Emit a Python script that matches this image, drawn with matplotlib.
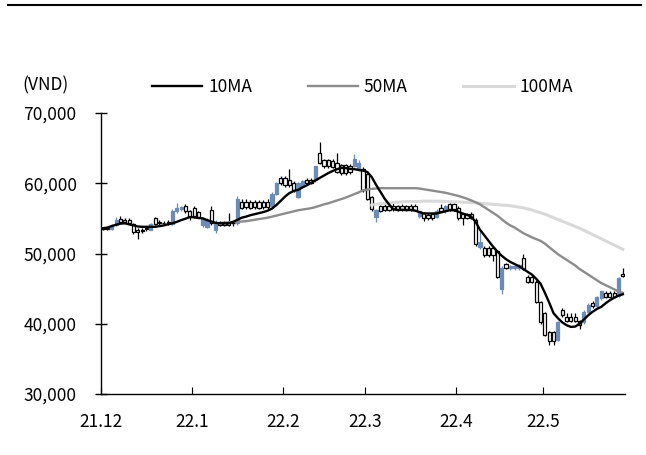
import matplotlib
matplotlib.use("Agg")
import matplotlib.pyplot as plt
import numpy as np
from matplotlib.lines import Line2D

plt.rcParams['font.family'] = ['Noto Sans CJK KR', 'DejaVu Sans']

# ---------------- data ----------------
month_labels = ["21.12", "22.1", "22.2", "22.3", "22.4", "22.5"]
month_days = [21, 21, 19, 21, 20, 19]

opens = [
    53600, 53600, 53500, 54000, 54900, 54800, 54700, 54200, 53400, 53400, 53500,
    53400, 55000, 54500, 54400, 54500, 54200, 56000, 56300, 56800, 56000,
    56500, 55900, 54000, 53800, 56200, 53400, 54400, 54400, 54400, 54400, 54300,
    57400, 57400, 57400, 57400, 57400, 57400, 57400, 56800, 58500, 60700,
    60800, 60500, 60000, 58100, 59600, 60500, 60500, 60400, 64300, 63300,
    63300, 63200, 62900, 62600, 62600, 62500, 62500, 61900, 62000,
    61300, 58000, 55200, 56700, 56800, 56700, 56800, 56700, 56800, 56700, 56800,
    56800, 55300, 55700, 55500, 55600, 55200, 56500, 56000, 57000, 57000,
    56500, 55600, 55600, 55600, 54800, 50900, 50800, 50800, 50800, 50300,
    45000, 48500, 47900, 47900, 47900, 49400, 46700, 46700, 46000, 43100,
    41500, 38800, 38800, 37700, 42000, 41000, 41000, 41000, 40400, 40200,
    41700, 43000, 42500, 43600, 44400, 44400, 44400, 44000, 47100,
]
highs = [
    53800, 53800, 54200, 55200, 55300, 55000, 55000, 54400, 53600, 53600, 53800,
    54300, 55200, 54700, 54600, 54700, 56300, 57200, 56800, 57000, 56200,
    56700, 56100, 55200, 55000, 56800, 54700, 54600, 54600, 55700, 54600, 58200,
    57700, 57700, 57600, 57600, 57600, 57600, 57700, 58700, 60200, 61000,
    61000, 62000, 60300, 60200, 60500, 60700, 60800, 62500, 65900, 63500,
    63500, 63400, 64300, 62800, 62800, 62700, 64200, 63300, 62300,
    61500, 58200, 56300, 56900, 57000, 56900, 57500, 56900, 57000, 56900, 57000,
    57000, 56100, 55900, 55700, 55800, 56300, 57000, 56900, 57200, 57200,
    56700, 55800, 55800, 55900, 55000, 53300, 51000, 51000, 51000, 50500,
    48200, 48700, 48400, 48400, 48500, 49900, 46900, 46900, 46200, 43300,
    41700, 39000, 39000, 40400, 42200, 41600, 41600, 41600, 40600, 41900,
    42900, 43300, 43900, 44700, 44600, 44600, 44600, 46700, 47900,
]
lows = [
    53300, 53300, 53400, 53900, 54300, 54300, 54200, 52800, 52000, 52900, 53200,
    53300, 54100, 54000, 54000, 54100, 54000, 55800, 56000, 55800, 54800,
    55000, 55000, 53800, 53600, 54100, 52900, 53900, 53900, 53900, 53900, 54100,
    56300, 56300, 56300, 56300, 56300, 56300, 56300, 56600, 58300, 59700,
    59500, 59500, 58800, 57900, 59400, 59800, 59900, 60200, 62700, 62200,
    62200, 62100, 61400, 61200, 61200, 61300, 62300, 61700, 58800,
    57600, 56000, 54500, 55900, 56000, 56000, 56100, 56000, 56100, 56000, 56100,
    56000, 55000, 54600, 54700, 54800, 55000, 55900, 55800, 56100, 56100,
    54800, 54000, 54900, 54900, 51100, 50700, 49500, 49500, 48900, 46500,
    44200, 47800, 47700, 47700, 47700, 47600, 45800, 45800, 42900, 40000,
    38200, 37000, 37000, 37500, 41000, 40200, 40200, 40200, 39200, 40000,
    41500, 42300, 42300, 43400, 43600, 43600, 43600, 43800, 46600,
]
closes = [
    53500, 53500, 54000, 54800, 54500, 54500, 54400, 53000, 53100, 53200, 53500,
    54200, 54200, 54300, 54300, 54300, 56100, 56500, 56600, 56000, 55200,
    55400, 55200, 55000, 54800, 54300, 54500, 54000, 54100, 54100, 54300, 57800,
    56500, 56600, 56500, 56600, 56500, 56600, 56600, 58500, 60000, 60000,
    59800, 59700, 59000, 60000, 60300, 60000, 60100, 62400, 62900, 62400,
    62500, 62300, 61600, 61500, 61500, 61600, 63500, 62900, 59000,
    57800, 56300, 56200, 56100, 56200, 56200, 56300, 56200, 56300, 56200, 56300,
    56200, 56000, 55000, 55000, 55000, 56100, 56100, 56700, 56300, 56300,
    55000, 55100, 55100, 55100, 51300, 51600, 49800, 49800, 49800, 46700,
    48000, 48000, 48200, 48200, 48300, 47800, 46000, 46000, 43100, 40200,
    38400, 37500, 37500, 40200, 41200, 40400, 40400, 40400, 39800, 41700,
    42700, 42500, 43800, 44600, 43800, 43800, 43800, 46500, 46800,
]
ma10 = [
    53600, 53700, 53900, 54100, 54250, 54300, 54150, 54000, 53850, 53800, 53800,
    53800, 53800, 53900, 54000, 54150, 54300, 54500, 54750, 54950, 55200,
    55150, 55050, 55000, 54750, 54550, 54350, 54300, 54300, 54300, 54500, 54800,
    55100, 55250, 55450, 55600, 55750, 55900, 56100, 56400, 56900, 57500,
    58100, 58600, 58900, 59050, 59400, 59700, 60050, 60400, 60750, 61100,
    61450, 61750, 62000, 62200, 62150, 62050, 62000, 61900, 61800,
    61600, 60900, 59800, 58800, 57800, 57000, 56300, 56200, 56200, 56200, 56200,
    56100, 55900, 55700, 55700, 55700, 55700, 55850, 56000, 56150, 56150,
    55950, 55700, 55500, 55250, 54500, 53400, 52600, 51800, 51000, 50300,
    49700, 49200, 48800, 48500, 48200, 47800, 47400, 47000, 46400, 45700,
    44400, 43000, 41500, 40800, 40200, 39800, 39550, 39600, 40000, 40600,
    41200, 41700, 42100, 42400, 42900, 43350, 43700, 44000, 44200,
]
nan = np.nan
ma50 = [nan] * 26 + [
    54300, 54350, 54400, 54450, 54500, 54500,
    54550, 54600, 54700, 54800, 54900, 55000, 55100, 55250, 55400, 55550,
    55700, 55850, 56000, 56150, 56250, 56350, 56450, 56600, 56800, 57000,
    57150, 57350, 57550, 57750, 57950, 58200, 58450, 58700, 59000,
    59100, 59200, 59250, 59300, 59300, 59300, 59300, 59300, 59300, 59300, 59300,
    59300, 59250, 59150, 59050, 58950, 58850, 58750, 58650, 58500, 58350,
    58200, 58000, 57800, 57550, 57300, 57000, 56600, 56200, 55800, 55400,
    54900, 54400, 54000, 53700, 53300, 52900, 52600, 52300, 52050, 51800,
    51400, 50900, 50400, 49900, 49500, 49100, 48700, 48300, 47800, 47400,
    47000, 46600, 46200, 45800, 45500, 45200, 44900, 44600, 44400,
]
ma100 = [nan] * 62 + [
    56900, 57000, 57100, 57150, 57200, 57250, 57300, 57350, 57400, 57400,
    57400, 57400, 57450, 57450, 57450, 57450, 57450, 57400, 57400, 57350,
    57350, 57300, 57300, 57250, 57200, 57150, 57100, 57050, 57000, 56950,
    56900, 56850, 56800, 56700, 56600, 56500, 56350, 56200, 56000, 55800,
    55600, 55350, 55100, 54850, 54600, 54350, 54100, 53850, 53600, 53300,
    53000, 52700, 52400, 52100, 51800, 51500, 51200, 50900, 50600,
]

# ---------------- figure ----------------
W, H = 646, 455
FS = 12.5
fig = plt.figure(figsize=(W / 100, H / 100), dpi=100)
ax = fig.add_axes([101 / W, 1 - 394 / H, (625 - 101) / W, (394 - 113) / H])

n = len(closes)
x = np.arange(n)
o = np.array(opens, float)
h = np.array(highs, float)
l = np.array(lows, float)
c = np.array(closes, float)

blue = '#6c8cb6'
up = c > o
face = np.where(up, blue, 'white')
edge = np.where(up, blue, 'black')

ax.vlines(x[~up], l[~up], h[~up], color='black', lw=0.9, zorder=2)
ax.vlines(x[up], l[up], h[up], color=blue, lw=0.9, zorder=2)
ax.bar(x, np.maximum(np.abs(c - o), 80), bottom=np.minimum(o, c), width=0.74,
       color=list(face), edgecolor=list(edge), linewidth=0.9, zorder=3)

ax.plot(x, ma100, color='#d9d9d9', lw=2.2, zorder=4)
ax.plot(x, ma50, color='#8c8c8c', lw=1.7, zorder=5)
ax.plot(x, ma10, color='black', lw=1.7, zorder=6)

ax.set_xlim(-0.5, n - 0.5)
ax.set_ylim(30000, 70000)

starts = np.concatenate([[0], np.cumsum(month_days)[:-1]]) - 0.5
ax.set_xticks(starts)
ax.set_xticklabels(month_labels)
yt = np.arange(30000, 70001, 10000)
ax.set_yticks(yt)
ax.set_yticklabels([f"{v:,}" for v in yt])

for s in ['top', 'right']:
    ax.spines[s].set_visible(False)
for s in ['left', 'bottom']:
    ax.spines[s].set_linewidth(1.0)
ax.tick_params(axis='y', direction='inout', length=9, width=1.0, pad=13, labelsize=FS)
ax.tick_params(axis='x', direction='in', length=5, width=0.8, pad=14, labelsize=FS)

# legend
handles = [Line2D([], [], color='black', lw=1.7),
           Line2D([], [], color='#8c8c8c', lw=1.7),
           Line2D([], [], color='#d9d9d9', lw=2.2)]
fig.legend(handles, ['10MA', '50MA', '100MA'], loc='center',
           bbox_to_anchor=(362.5 / W, 1 - 87 / H), ncol=3, frameon=False,
           fontsize=FS, handlelength=2.9, handletextpad=0.35, columnspacing=3.2)

fig.text(22 / W, 1 - 85 / H, '(VND)', fontsize=FS, va='center', ha='left')

# top rule
fig.add_artist(Line2D([8 / W, 641 / W], [1 - 4.5 / H, 1 - 4.5 / H], color='black', lw=1.5))

fig.savefig('out.png', dpi=100)
